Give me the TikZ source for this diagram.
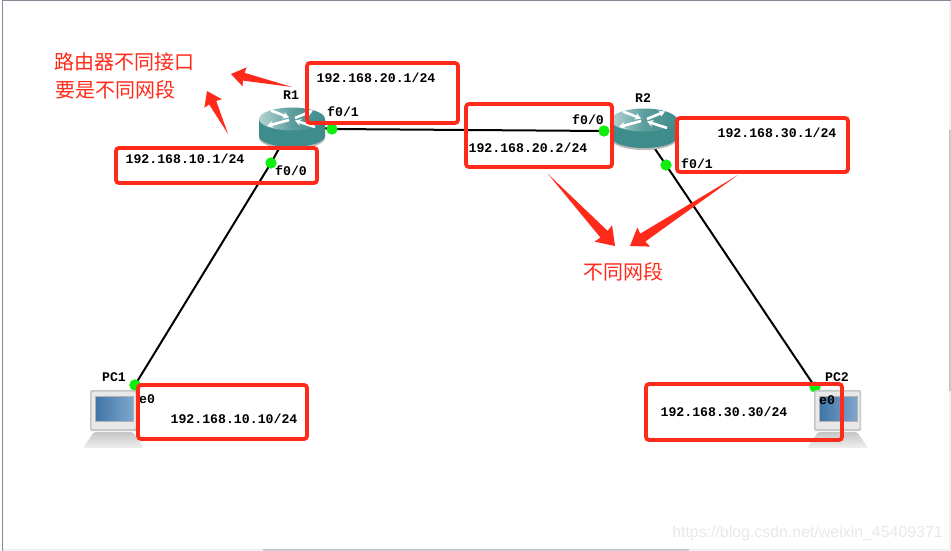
\documentclass[tikz,border=0pt]{standalone}
\usepackage{xcolor}
\usepackage{fontspec}
\setmainfont{Liberation Sans}
\newfontfamily\monobold{Liberation Mono}[BoldFont={Liberation Mono Bold}]
\newfontfamily\cjkfont{Noto Sans CJK SC}
\usetikzlibrary{arrows.meta,calc}

\definecolor{markred}{HTML}{FF2A1A}
\definecolor{routerteal}{HTML}{3F8C8C}
\definecolor{routerlight}{HTML}{B5D3D3}
\definecolor{portgreen}{HTML}{10EE10}
\definecolor{framegray}{HTML}{858A94}
\definecolor{barlight}{HTML}{F0F0F0}
\definecolor{bardark}{HTML}{C8C8C8}
\definecolor{screenblue}{HTML}{3F74A8}
\definecolor{screenpale}{HTML}{7FA6CC}

% router icon, #1 is the middle of its top face
\newcommand{\routericon}[1]{
\begin{scope}[shift={(#1)}]
\fill[gray!55] (-33,1) -- (-33,19) arc[start angle=180, end angle=360, x radius=33pt, y radius=11pt] -- (33,1) -- cycle;
\fill[routerteal] (-33,0) -- (-33,17) arc[start angle=180, end angle=360, x radius=33pt, y radius=11pt] -- (33,0) -- cycle;
\shade[left color=routerlight, right color=routerteal, middle color=routerteal!85!white] (0,0) ellipse[x radius=33pt, y radius=11.5pt];
\draw[routerarrow] (-21,-8.5) -- (-3,-1.5);
\draw[routerarrow] (3,-1) -- (21,-8.5);
\draw[routerarrow] (-3,1) -- (-25,7);
\draw[routerarrow] (23,8) -- (3,1.5);
\end{scope}
}

% computer icon, #1 is the top left corner of its monitor
\newcommand{\pcicon}[1]{
\begin{scope}[shift={(#1)}]
\shade[top color=gray!45, bottom color=gray!12, rounded corners=1.5pt] (4,42) -- (43,42) -- (54,58) -- (-7,58) -- cycle;
\fill[gray!45, rounded corners=1.5pt] (0,0) rectangle (47,41);
\fill[gray!18, rounded corners=1.5pt] (1.5,1.5) rectangle (45.5,39);
\shade[left color=screenblue, right color=screenpale] (5,6) rectangle (43,31);
\draw[gray!60, line width=0.8pt] (5,6) rectangle (43,31);
\end{scope}
}

% fat red pointer, #1 tail, #2 tip, #3 head size
\newcommand{\redpointer}[3]{
\fill[markred] (#1) -- ($(#2)!#3*0.8pt!17:(#1)$) -- ($(#2)!#3*1pt!35:(#1)$) -- (#2)
 -- ($(#2)!#3*1pt!-35:(#1)$) -- ($(#2)!#3*0.8pt!-17:(#1)$) -- cycle;
}

\begin{document}
\begin{tikzpicture}[
    x=1pt, y=-1pt,
    link/.style={line width=2pt, black},
    port/.style={circle, fill=portgreen, inner sep=0pt, minimum size=11pt},
    routerarrow/.style={-{Stealth[length=6pt,width=7pt]}, white, line width=2.6pt},
    ipbox/.style={draw=markred, line width=3.8pt, rounded corners=3pt, inner sep=0pt, outer sep=0pt},
    iplabel/.style={font=\monobold\bfseries\fontsize{13.2}{13}\selectfont, inner sep=0pt},
    cjklabel/.style={font=\cjkfont\fontsize{20}{20}\selectfont, text=markred, inner sep=0pt}
]
\useasboundingbox (0,0) rectangle (951,551);

% Window frame
\fill[white] (0,0) rectangle (951,551);
\fill[framegray] (2,0) rectangle (3.2,551);
\fill[framegray] (2,0) rectangle (951,1.2);
\fill[barlight] (3.2,549) rectangle (951,551);
\fill[bardark] (263,549) rectangle (689,551);
\fill[barlight] (949,1.2) rectangle (951,551);
\fill[bardark] (949,130) rectangle (951,391);

% Device anchors
\coordinate (R1) at (292,125);
\coordinate (R2) at (642,130);

% Ports
\node[port] (r1f00) at (271,163) {};
\node[port] (r1f01) at (332,129) {};
\node[port] (r2f00) at (604,131) {};
\node[port] (r2f01) at (666,165) {};
\node[port] (pc1e0) at (135,385) {};
\node[port] (pc2e0) at (815,387) {};

% Links
\draw[link] (R1) -- (r1f00.center) -- (pc1e0.center);
\draw[link] (r1f01.center) -- (r2f00.center);
\draw[link] (R2) -- (r2f01.center) -- (pc2e0.center);
\draw[link] (R1) -- (r1f01.center);

% Routers
\routericon{292,119}
\routericon{644,120}
\node[port] at (r1f01) {};
\node[port] at (r1f00) {};
\node[port] at (r2f00) {};
\node[port] at (r2f01) {};
\node[port] at (pc1e0) {};
\node[port] at (pc2e0) {};

% PCs
\pcicon{90,390}
\pcicon{814,390}
\node[port] at (pc1e0) {};

% Device labels
\node[iplabel] (r1name) at (291,95) {R1};
\node[iplabel] (r2name) at (643,98) {R2};
\node[iplabel] (pc1name) at (114,377) {PC1};
\node[iplabel] (pc2name) at (837,377) {PC2};

% Port labels
\node[iplabel] (r1f01name) at (343,112) {f0/1};
\node[iplabel] (r1f00name) at (291,171) {f0/0};
\node[iplabel] (r2f00name) at (588,120) {f0/0};
\node[iplabel] (r2f01name) at (697,164) {f0/1};
\node[iplabel] (pc1e0name) at (147,399) {e0};
\node[iplabel] (pc2e0name) at (827,400) {e0};

% Address labels
\node[iplabel] (ip201) at (376,78) {192.168.20.1/24};
\node[iplabel] (ip101) at (185,159) {192.168.10.1/24};
\node[iplabel] (ip202) at (528,148) {192.168.20.2/24};
\node[iplabel] (ip301) at (777,133) {192.168.30.1/24};
\node[iplabel] (ip1010) at (234,419) {192.168.10.10/24};
\node[iplabel] (ip3030) at (724,412) {192.168.30.30/24};

% Red boxes
\node[ipbox, minimum width=151pt, minimum height=60pt] (box201) at (382.5,93) {};
\node[ipbox, minimum width=201pt, minimum height=35pt] (box101) at (216.5,165.5) {};
\node[ipbox, minimum width=146pt, minimum height=63pt] (box202) at (539,135.5) {};
\node[ipbox, minimum width=171pt, minimum height=54pt] (box301) at (762.5,145) {};
\node[ipbox, minimum width=169pt, minimum height=54pt] (box1010) at (222.5,412) {};
\node[ipbox, minimum width=196pt, minimum height=56pt] (box3030) at (744,412) {};

% Notes
\node[cjklabel] (note1) at (124.5,62) {路由器不同接口};
\node[cjklabel] (note2) at (115,90) {要是不同网段};
\node[cjklabel] (note3) at (623,272) {不同网段};

% Pointers
\coordinate (tipa) at (231,74);
\coordinate (taila) at (292,87);
\coordinate (tipb) at (207,91);
\coordinate (tailb) at (228,134);
\coordinate (tipc) at (615,246);
\coordinate (tailc) at (548,174);
\coordinate (tipd) at (630,246);
\coordinate (taild) at (738,175);
\redpointer{taila}{tipa}{17}
\redpointer{tailb}{tipb}{17}
\redpointer{tailc}{tipc}{21}
\redpointer{taild}{tipd}{20}

% Watermark
\node[font=\fontsize{15.9}{16}\selectfont, text=gray!18, inner sep=0pt] (mark) at (807.5,533) {https://blog.csdn.net/weixin\_45409371};

\end{tikzpicture}
\end{document}
